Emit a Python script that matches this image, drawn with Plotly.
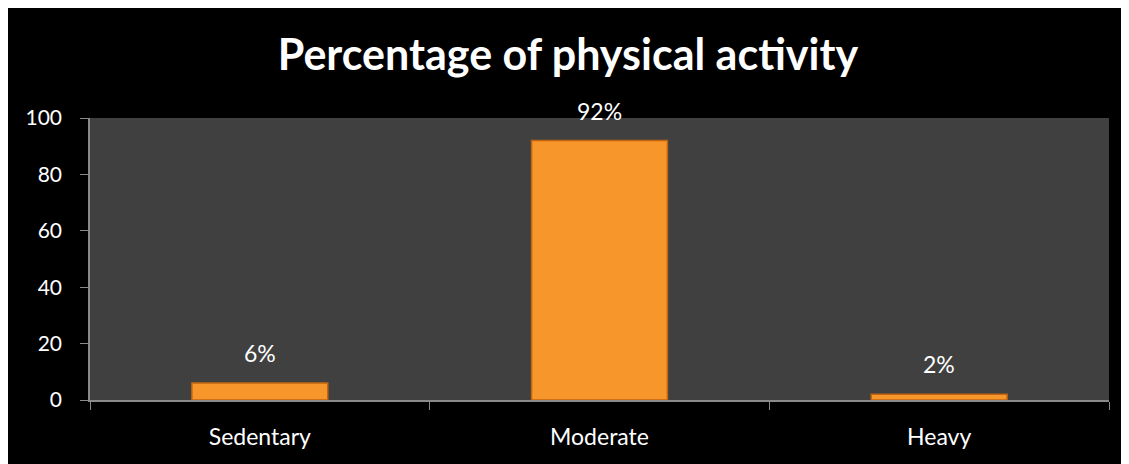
import plotly.graph_objects as go

categories = ["Sedentary", "Moderate", "Heavy"]
values = [6, 92, 2]
labels = ["6%", "92%", "2%"]
y_ticks = [0, 20, 40, 60, 80, 100]

W, H = 1129, 464
# the page adds an 8px body margin, so the figure sits at (8, 8) in the picture
ML, MR, MT, MB = 82, 28, 110, 72

FONT = "Lato, Open Sans, sans-serif"

fig = go.Figure()
fig.add_trace(go.Bar(
    x=categories, y=values,
    marker=dict(color="#F7962B", line=dict(color="#C2650F", width=1.5)),
    width=0.4,
    hoverinfo="skip",
))

for c, v, t in zip(categories, values, labels):
    fig.add_annotation(x=c, y=v, text=t, showarrow=False, yanchor="middle", yshift=30,
                       font=dict(family=FONT, size=23, color="#FFFFFF"))

fig.update_layout(
    width=W, height=H,
    margin=dict(l=ML, r=MR, t=MT, b=MB),
    paper_bgcolor="#000000",
    plot_bgcolor="#404040",
    showlegend=False,
    title=dict(text="<b>Percentage of physical activity</b>", x=0.496,
               xanchor="center", xref="container",
               y=1 - 47 / H, yanchor="middle",
               font=dict(family=FONT, size=43, color="#FFFFFF")),
    xaxis=dict(showgrid=False, showline=True, linecolor="#8A8A8A", linewidth=1.5,
               ticks="outside", tickson="boundaries", ticklen=8, tickcolor="#8A8A8A",
               tickfont=dict(family=FONT, size=23, color="#FFFFFF"),
               ticklabelstandoff=16),
    yaxis=dict(range=[0, 100], tickvals=y_ticks, showgrid=False, zeroline=False,
               showline=True, linecolor="#8A8A8A", linewidth=1.5,
               ticks="outside", ticklen=8, tickcolor="#8A8A8A",
               tickfont=dict(family=FONT, size=21, color="#FFFFFF"),
               ticklabelstandoff=14),
)

fig.write_html("out.html")
